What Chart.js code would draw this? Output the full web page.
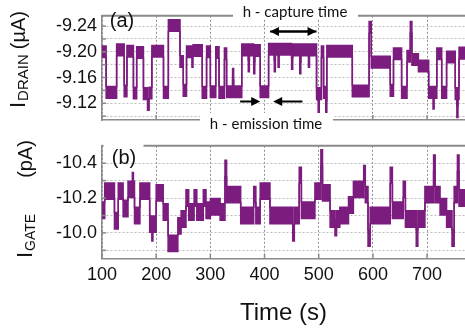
<!DOCTYPE html>
<html>
<head>
<meta charset="utf-8">
<script src="https://cdn.jsdelivr.net/npm/chart.js@4.4.1/dist/chart.umd.min.js"></script>
<style>
  html, body { margin: 0; padding: 0; background: #fff; overflow: hidden; }
  #wrap { position: relative; width: 465px; height: 329px; }
  canvas { position: absolute; left: 0; }
  #drainChart { top: 0; }
  #gateChart { top: 130px; }
</style>
</head>
<body>
<div id="wrap">
  <canvas id="drainChart" width="465" height="140"></canvas>
  <canvas id="gateChart" width="465" height="199"></canvas>
</div>
<script>
// shared time axis
const timeTicks = [100, 200, 300, 400, 500, 600, 700];
const timeRange = [100, 770];

// (a) drain current: start time of each level (s) and level (uA)
const drainTimes = [
  100, 107.6, 127, 141, 146, 158, 164, 176.5, 184, 187, 192, 213.5, 222.5, 244, 250, 256,
  266, 268, 285, 293, 300, 310, 316, 326, 330, 341, 343, 358, 370, 372, 380, 382, 392,
  407.5, 418, 420, 425, 427, 450, 452, 465, 467, 481, 483, 496, 499, 501, 505, 509, 513,
  515, 562, 593, 597, 632, 638, 653, 663, 669, 672, 684, 703, 711, 713, 718, 727, 736,
  752, 755, 757, 759, 770
];
const drainLevels = [
  -9.200, -9.137, -9.203, -9.139, -9.201, -9.136, -9.199, -9.135, -9.118, -9.136, -9.201, -9.137, -9.241, -9.185, -9.140, -9.200,
  -9.185, -9.202, -9.137, -9.200, -9.138, -9.199, -9.137, -9.197, -9.138, -9.165, -9.138, -9.203, -9.178, -9.203, -9.175, -9.202, -9.138,
  -9.204, -9.178, -9.204, -9.185, -9.204, -9.182, -9.203, -9.175, -9.203, -9.185, -9.203, -9.135, -9.115, -9.135, -9.200, -9.137, -9.115,
  -9.201, -9.139, -9.238, -9.184, -9.140, -9.197, -9.137, -9.193, -9.238, -9.188, -9.178, -9.137, -9.120, -9.137, -9.197, -9.137, -9.192,
  -9.135, -9.107, -9.135, -9.198, -9.198
];
const drainNoise = 0.009;
const drainGrid = [-9.24, -9.22, -9.20, -9.18, -9.16, -9.14, -9.12, -9.10];
const drainLabels = [-9.24, -9.20, -9.16, -9.12];
const drainRange = [-9.256, -9.094];

// (b) gate current: start time of each level (s) and level (pA)
const gateTimes = [
  100, 105, 123, 130, 139, 148, 156, 158, 160, 170, 188, 192, 194, 200, 213, 222, 240, 246,
  255, 260, 270, 275, 287, 292, 300, 318, 327, 330, 356, 380, 384, 392, 410, 452, 455, 464,
  468, 493, 504, 507, 521, 530, 533, 539, 555, 564, 583, 586, 591, 595, 632, 636, 656, 660,
  680, 683, 696, 712, 715, 724, 736, 746, 750, 756, 759, 770
];
const gateLevels = [
  -10.13, -10.24, -10.07, -10.24, -10.14, -10.25, -10.30, -10.25, -10.10, -10.24, -10.05, -10.00, -10.05, -10.23, -10.12, -9.94, -10.04, -10.08,
  -10.20, -10.12, -10.20, -10.12, -10.20, -10.13, -10.15, -10.12, -10.37, -10.22, -10.10, -10.22, -10.10, -10.24, -10.10, -10.00, -10.10, -10.33,
  -10.13, -10.24, -10.43, -10.23, -10.08, -10.03, -10.08, -10.10, -10.16, -10.25, -10.34, -10.22, -9.97, -10.10, -10.33, -10.13, -10.25, -10.08,
  -9.97, -10.08, -10.22, -10.40, -10.22, -10.15, -10.08, -9.97, -10.22, -10.40, -10.20, -10.20
];
const gateNoise = 0.047;
const gateGrid = [-10.4, -10.3, -10.2, -10.1, -10.0, -9.9];
const gateLabels = [-10.4, -10.2, -10.0];
const gateRange = [-10.5, -9.853];

const purple = "#7b1c7e";
const axisGray = "#8a8a8a";
const textFont = "'Liberation Sans', Arial, sans-serif";

// per-panel decorations, read by the plugin by canvas id
const panelDecor = {
  drainChart: {
    grid: drainGrid,
    panel: "(a)",
    panelPos: [122, 21],
    boxes: [[103.5, 0, 40, 12], [233, 0, 125, 19], [200, 113, 133, 19]],
    notes: [
      { text: "h - capture time", x: 295, y: 12 },
      { text: "h - emission time", x: 266, y: 124 }
    ],
    arrows: [
      { from: 410, to: 496, y: 31.5, both: true },
      { from: 355, to: 392, y: 101.5 },
      { from: 470, to: 416, y: 101.5 }
    ],
    title: [
      { text: "I", size: 22 },
      { text: "DRAIN", size: 15, shift: 3, gap: 1 },
      { text: "(\u00b5A)", size: 20, gap: 5 }
    ],
    titleX: 25,
    titleY: 108
  },
  gateChart: {
    grid: gateGrid,
    panel: "(b)",
    panelPos: [124, 28],
    boxes: [[103.5, 0, 40, 24]],
    notes: [],
    arrows: [],
    title: [
      { text: "I", size: 22 },
      { text: "GATE", size: 14, shift: 3, gap: 1 },
      { text: "(pA)", size: 20, gap: 36 }
    ],
    titleX: 32,
    titleY: 128
  }
};

function band(times, levels, noise, sign) {
  return times.map((t, i) => ({ x: t, y: levels[i] + sign * noise }));
}

function datasets(times, levels, noise) {
  const common = {
    stepped: true,
    pointRadius: 0,
    borderColor: purple,
    backgroundColor: purple,
    borderWidth: 1.5
  };
  return [
    { ...common, data: band(times, levels, noise, -1), fill: "+1" },
    { ...common, data: band(times, levels, noise, 1), fill: false }
  ];
}

function arrow(ctx, x1, y, x2) {
  const dir = Math.sign(x2 - x1);
  ctx.beginPath();
  ctx.moveTo(x1, y);
  ctx.lineTo(x2 - dir * 6, y);
  ctx.stroke();
  ctx.beginPath();
  ctx.moveTo(x2, y);
  ctx.lineTo(x2 - dir * 9, y - 4.5);
  ctx.lineTo(x2 - dir * 9, y + 4.5);
  ctx.closePath();
  ctx.fill();
}

function drawYTitle(ctx, parts, x, yStart) {
  let pos = 0;
  parts.forEach(p => {
    ctx.save();
    ctx.font = p.size + "px " + textFont;
    pos += p.gap || 0;
    ctx.translate(x + (p.shift || 0), yStart - pos);
    ctx.rotate(-Math.PI / 2);
    ctx.fillStyle = "#111";
    ctx.textBaseline = "alphabetic";
    ctx.textAlign = "left";
    ctx.fillText(p.text, 0, 0);
    pos += ctx.measureText(p.text).width;
    ctx.restore();
  });
}

const decorations = {
  id: "decorations",
  afterDraw(chart) {
    const d = panelDecor[chart.canvas.id];
    const { ctx, chartArea: a, scales } = chart;
    ctx.save();
    // top frame line
    ctx.strokeStyle = axisGray;
    ctx.lineWidth = 2;
    ctx.beginPath();
    ctx.moveTo(a.left, a.top);
    ctx.lineTo(a.right, a.top);
    ctx.stroke();
    // inner tick marks
    ctx.lineWidth = 1.5;
    timeTicks.forEach(t => {
      const x = scales.x.getPixelForValue(t);
      ctx.beginPath();
      ctx.moveTo(x, a.bottom);
      ctx.lineTo(x, a.bottom - 5);
      ctx.stroke();
    });
    d.grid.forEach(v => {
      const y = scales.y.getPixelForValue(v);
      ctx.beginPath();
      ctx.moveTo(a.left, y);
      ctx.lineTo(a.left + 4, y);
      ctx.stroke();
    });
    // white boxes behind labels
    ctx.fillStyle = "#fff";
    d.boxes.forEach(b => ctx.fillRect(b[0], b[1], b[2], b[3]));
    // panel letter
    ctx.fillStyle = "#111";
    ctx.textAlign = "center";
    ctx.textBaseline = "middle";
    ctx.font = "20px " + textFont;
    ctx.fillText(d.panel, d.panelPos[0], d.panelPos[1]);
    // annotations
    ctx.font = "15px Lato, 'Open Sans', sans-serif";
    d.notes.forEach(n => ctx.fillText(n.text, n.x, n.y));
    ctx.strokeStyle = "#000";
    ctx.fillStyle = "#000";
    ctx.lineWidth = 2;
    d.arrows.forEach(ar => {
      const x1 = scales.x.getPixelForValue(ar.from);
      const x2 = scales.x.getPixelForValue(ar.to);
      arrow(ctx, x1, ar.y, x2);
      if (ar.both) arrow(ctx, x2, ar.y, x1);
    });
    ctx.restore();
    drawYTitle(ctx, d.title, d.titleX, d.titleY);
  }
};

function makeChart(id, times, levels, noise, range, grid, labels, digits, showX, padTop, xHeight) {
  return new Chart(document.getElementById(id), {
    type: "line",
    data: { datasets: datasets(times, levels, noise) },
    plugins: [decorations],
    options: {
      responsive: false,
      animation: false,
      layout: { padding: { top: padTop, right: 0, bottom: 0, left: 0 } },
      plugins: {
        legend: { display: false },
        tooltip: { enabled: false }
      },
      scales: {
        x: {
          type: "linear",
          min: timeRange[0],
          max: timeRange[1],
          afterBuildTicks: s => { s.ticks = timeTicks.map(v => ({ value: v })); },
          afterFit: s => { s.height = xHeight; },
          grid: { color: "#8f8f8f", lineWidth: 1, drawTicks: false },
          border: { color: axisGray, width: 1.5, dash: [2, 2] },
          ticks: {
            display: showX,
            autoSkip: false,
            maxRotation: 0,
            padding: 6,
            color: "#111",
            font: { family: textFont, size: 18 }
          },
          title: {
            display: showX,
            text: "Time (s)",
            color: "#111",
            font: { family: textFont, size: 24 },
            padding: { top: 0, bottom: 1 }
          }
        },
        y: {
          type: "linear",
          reverse: true,
          min: range[0],
          max: range[1],
          afterBuildTicks: s => { s.ticks = grid.map(v => ({ value: v })); },
          afterFit: s => { s.width = 102; },
          grid: { color: "#bdbdbd", lineWidth: 1, drawTicks: false },
          border: { color: axisGray, width: 1.5, dash: [2, 2] },
          ticks: {
            autoSkip: false,
            padding: 5,
            color: "#111",
            font: { family: textFont, size: 18 },
            callback: v => labels.some(l => Math.abs(l - v) < 1e-6) ? v.toFixed(digits) : ""
          }
        }
      }
    }
  });
}

makeChart("drainChart", drainTimes, drainLevels, drainNoise, drainRange, drainGrid, drainLabels, 2, false, 5, 20);
makeChart("gateChart", gateTimes, gateLevels, gateNoise, gateRange, gateGrid, gateLabels, 1, true, 13, 70.5);
</script>
</body>
</html>
